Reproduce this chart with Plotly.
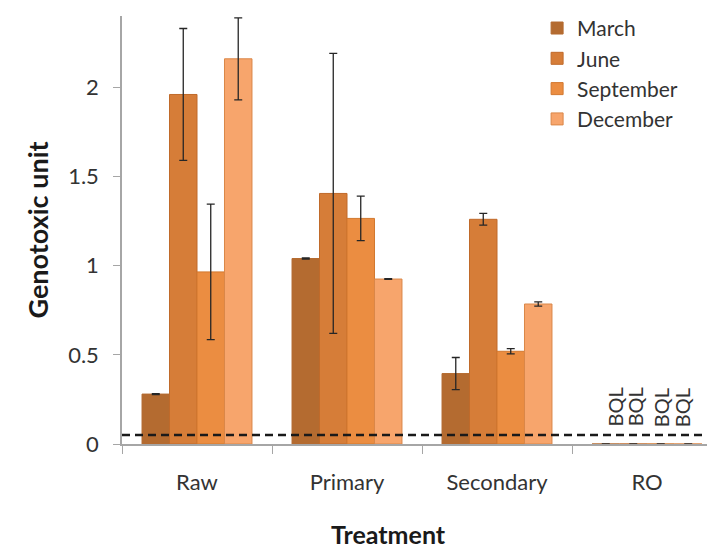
import plotly.graph_objects as go

categories = ["Raw", "Primary", "Secondary", "RO"]
months = ["March", "June", "September", "December"]
march = [0.28, 1.04, 0.395, 0.0]
march_err = [0.003, 0.003, 0.09, 0.0]
june = [1.96, 1.405, 1.26, 0.0]
june_err = [0.37, 0.785, 0.033, 0.0]
september = [0.965, 1.265, 0.52, 0.0]
september_err = [0.38, 0.125, 0.015, 0.0]
december = [2.16, 0.925, 0.785, 0.0]
december_err = [0.23, 0.002, 0.012, 0.0]
threshold = 0.05
bql_offsets = [-0.213, -0.08, 0.093, 0.233]

values = [march, june, september, december]
errors = [march_err, june_err, september_err, december_err]
fills = ["#B46B30", "#D67D38", "#EB8D41", "#F7A56C"]
outlines = ["#B46B30", "#C06A2A", "#D2782F", "#DA8748"]

FONT = "Lato, 'Open Sans', sans-serif"

fig = go.Figure()
for i, (m, v, e) in enumerate(zip(months, values, errors)):
    fig.add_trace(go.Bar(
        name=m, x=categories, y=v, legendgroup=m,
        marker=dict(color=fills[i], line=dict(color=outlines[i], width=1)),
        error_y=dict(type="data", array=e, visible=True, color="#262626",
                     thickness=1.3, width=4),
    ))

fig.add_shape(type="line", xref="paper", yref="y", x0=0, x1=1,
              y0=threshold, y1=threshold,
              line=dict(color="#1a1a1a", width=2.5, dash="8px,5px"))

for off in bql_offsets:
    fig.add_annotation(x=3 + off, y=0.085, xref="x", yref="y", text="BQL",
                       textangle=-90, showarrow=False, yanchor="bottom",
                       font=dict(family=FONT, size=20, color="#333333"))

# x-axis title
fig.add_annotation(x=0.45, y=-0.21, xref="paper", yref="paper", text="<b>Treatment</b>",
                   showarrow=False, xanchor="center", yanchor="middle",
                   font=dict(family=FONT, size=25, color="#1a1a1a"))

fig.update_layout(
    width=715, height=550,
    margin=dict(l=114, r=8, t=8, b=114, autoexpand=False),
    plot_bgcolor="white", paper_bgcolor="white",
    barmode="group", bargap=0.267, bargroupgap=0,
    font=dict(family=FONT, color="#333333"),
    showlegend=True,
    legend=dict(x=0.70, y=1.019, xanchor="left", yanchor="top",
                font=dict(family=FONT, size=21, color="#333333"),
                traceorder="grouped", tracegroupgap=0,
                bgcolor="rgba(0,0,0,0)"),
    xaxis=dict(range=[-0.5, 3.5 - 7 / 150], showline=True, linecolor="#A6A6A6",
               linewidth=1.5, ticks="outside", tickson="boundaries", ticklen=8,
               tickcolor="#A6A6A6", tickfont=dict(family=FONT, size=22, color="#333333"),
               tickangle=0, ticklabelstandoff=18, showgrid=False, automargin=False),
    yaxis=dict(range=[0, 2.4], showline=True, linecolor="#A6A6A6", linewidth=1.5,
               ticks="outside", ticklen=7, tickcolor="#A6A6A6",
               tickvals=[0, 0.5, 1, 1.5, 2], ticktext=["0", "0.5", "1", "1.5", "2"],
               tickfont=dict(family=FONT, size=22, color="#333333"),
               ticklabelstandoff=10, showgrid=False, zeroline=False,
               title=dict(text="<b>Genotoxic unit</b>", font=dict(family=FONT, size=27, color="#1a1a1a"),
                          standoff=12)),
)

fig.write_html("out.html")
